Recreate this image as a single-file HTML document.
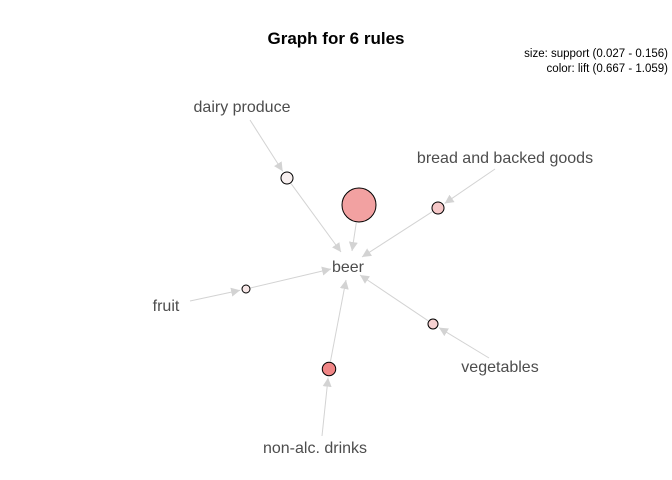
<!DOCTYPE html>
<html><head><meta charset="utf-8"><style>
body{margin:0;background:#fff}
svg{display:block;font-family:"Liberation Sans",sans-serif}
</style></head><body>
<svg id="c" width="672" height="480">
<defs><marker id="ah" viewBox="0 0 10 10" refX="10" refY="5" markerWidth="9" markerHeight="9" orient="auto" markerUnits="userSpaceOnUse"><path d="M0,0L10,5L0,10z" fill="#d3d3d3"/></marker></defs>
<text x="336" y="44" text-anchor="middle" font-size="17" font-weight="bold">Graph for 6 rules</text>
<text x="668" y="57" text-anchor="end" font-size="11.5">size: support (0.027 - 0.156)</text>
<text x="668" y="72" text-anchor="end" font-size="11.5">color: lift (0.667 - 1.059)</text>
<g id="edges"></g><g id="nodes"></g><g id="labels"></g>
</svg>
<script>
const items = ["dairy produce","bread and backed goods","fruit","vegetables","non-alc. drinks"];
const ruleLhs = ["dairy produce","","bread and backed goods","fruit","vegetables","non-alc. drinks"];
const support = [0.047,0.156,0.047,0.027,0.037,0.054];
const lift = [0.667,0.96,0.82,0.70,0.78,1.059];
const ns="http://www.w3.org/2000/svg";
const itemPos={"dairy produce":[242,107,[250,120]],"bread and backed goods":[505,158,[495,169]],"fruit":[166,306,[190,301]],"vegetables":[500,367,[489,358]],"non-alc. drinks":[315,448,[322,436]]};
const rulePos=[[287,178],[359,205],[438,208],[246,289],[433,324],[329,369]];
const beer=[348,267];
const beerEnd=[[341,252],[352,251],[362,257],[331,269],[360,275],[346,280]];
const sMin=0.027,sMax=0.156,lMin=0.667,lMax=1.059;
const rad=s=>4+13*(s-sMin)/(sMax-sMin);
function col(l){const t=(l-lMin)/(lMax-lMin);const a=[248,240,240],b=[240,134,134];return `rgb(${a.map((v,i)=>Math.round(v+(b[i]-v)*t)).join(',')})`;}
function line(x1,y1,x2,y2,name){const e=document.createElementNS(ns,'line');e.setAttribute('x1',x1);e.setAttribute('y1',y1);e.setAttribute('x2',x2);e.setAttribute('y2',y2);e.setAttribute('stroke','#d3d3d3');e.setAttribute('stroke-width','1');e.setAttribute('marker-end','url(#ah)');


document.getElementById('edges').appendChild(e);}
function shorten(p,q,d){const dx=q[0]-p[0],dy=q[1]-p[1],L=Math.hypot(dx,dy);return [q[0]-dx/L*d,q[1]-dy/L*d];}
support.forEach((s,i)=>{
  const p=rulePos[i],r=rad(s);
  if(ruleLhs[i]){const st=itemPos[ruleLhs[i]][2];const en=shorten(st,p,r+2);line(st[0],st[1],en[0],en[1],'edge-item-rule-'+(i+1));}
  const dx=beerEnd[i][0]-p[0],dy=beerEnd[i][1]-p[1],L=Math.hypot(dx,dy);
  line(p[0]+dx/L*(r+1),p[1]+dy/L*(r+1),beerEnd[i][0],beerEnd[i][1],'edge-rule-beer-'+(i+1));
  const c=document.createElementNS(ns,'circle');c.setAttribute('cx',p[0]);c.setAttribute('cy',p[1]);c.setAttribute('r',r);c.setAttribute('fill',col(lift[i]));c.setAttribute('stroke','#000');c.setAttribute('stroke-width','1');
  
  
  document.getElementById('nodes').appendChild(c);
});
function label(t,x,y,name){const e=document.createElementNS(ns,'text');e.setAttribute('x',x);e.setAttribute('y',y+5);e.setAttribute('text-anchor','middle');e.setAttribute('font-size','16');e.setAttribute('fill','#4d4d4d');e.textContent=t;


document.getElementById('labels').appendChild(e);}
items.forEach(it=>{const p=itemPos[it];label(it,p[0],p[1],'item-label-'+it.replace(/[^a-z]+/gi,'-').toLowerCase());});
label('beer',beer[0],beer[1],'item-label-beer');
</script>
</body></html>
